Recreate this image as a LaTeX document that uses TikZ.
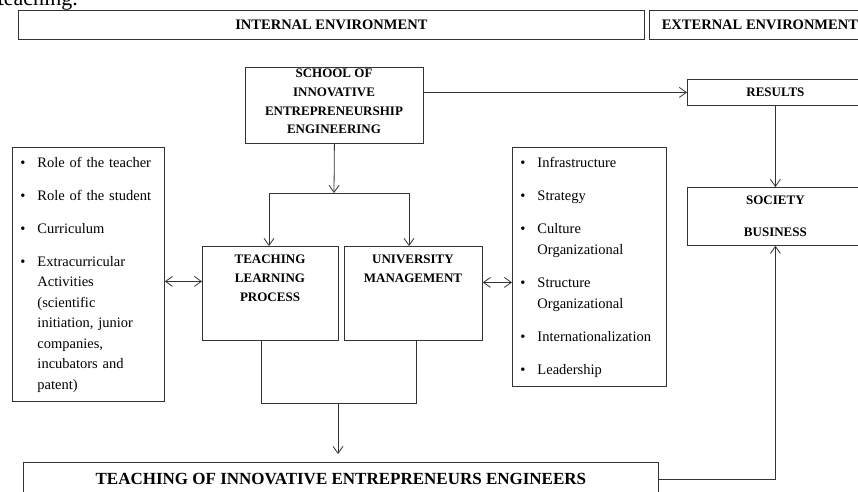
\documentclass[tikz,border=0pt]{standalone}
\usepackage{fontspec}
\setmainfont{Liberation Serif}
\usetikzlibrary{arrows.meta}

\begin{document}
\begin{tikzpicture}[x=1pt, y=-1pt, >={Straight Barb[length=7pt,width=10pt]}]
	\tikzstyle{box}=[draw=black!80, line width=.8pt, rectangle, inner sep=0pt, anchor=north west]
	\tikzstyle{head}=[font=\fontsize{14.5}{17}\selectfont\bfseries]
	\tikzstyle{bold}=[font=\fontsize{13}{18.7}\selectfont\bfseries, align=center]
	\tikzstyle{title}=[bold, anchor=north, inner sep=0pt]
	\tikzstyle{items}=[font=\fontsize{14.5}{20.5}\selectfont, align=left, inner xsep=8pt]
	\tikzstyle{link}=[draw=black!80, line width=.8pt]
	\useasboundingbox (0,0) rectangle (858,491);
	\clip (0,0) rectangle (858,491);
	\path (78,5) node[anchor=base east, inner sep=0pt, font=\fontsize{22}{26}\selectfont] (intro) {teaching.};
	\path (18,10) node[box, head, minimum width=626, minimum height=29] (internal) {INTERNAL ENVIRONMENT};
	\path (649,10) node[box, head, minimum width=221, minimum height=29] (external) {EXTERNAL ENVIRONMENT};
	\path (245,67) node[box, minimum width=178, minimum height=76] (school) {};
	\path (334,69) node[title] (schooltext) {SCHOOL OF\\INNOVATIVE\\ENTREPRENEURSHIP\\ENGINEERING};
	\path (687,79) node[box, bold, minimum width=176, minimum height=26] (results) {RESULTS};
	\path (687,187) node[box, bold, minimum width=176, minimum height=58] (society) {SOCIETY\\[13pt]BUSINESS};
	\path (202,246) node[box, minimum width=136, minimum height=94] (tlp) {};
	\path (270,255) node[title] (tlptext) {TEACHING\\LEARNING\\PROCESS};
	\path (344,246) node[box, minimum width=138, minimum height=94] (um) {};
	\path (413,255) node[title] (umtext) {UNIVERSITY\\MANAGEMENT};
	\path (12,147) node[box, items, text width=136, minimum width=152, minimum height=254] (leftlist) {%
		\begin{tabular}{@{}l@{\hspace{12pt}}l@{}}
		\textbullet & Role of the teacher\\[12.3pt]
		\textbullet & Role of the student\\[12.3pt]
		\textbullet & Curriculum\\[12.3pt]
		\textbullet & Extracurricular\\
		 & Activities\\
		 & (scientific\\
		 & initiation, junior\\
		 & companies,\\
		 & incubators and\\
		 & patent)
		\end{tabular}};
	\path (512,147) node[box, items, text width=138, minimum width=154, minimum height=239] (rightlist) {%
		\begin{tabular}{@{}l@{\hspace{12pt}}l@{}}
		\textbullet & Infrastructure\\[12.8pt]
		\textbullet & Strategy\\[12.8pt]
		\textbullet & Culture\\
		 & Organizational\\[12.8pt]
		\textbullet & Structure\\
		 & Organizational\\[12.8pt]
		\textbullet & Internationalization\\[12.8pt]
		\textbullet & Leadership
		\end{tabular}};
	\path (23,462) node[box, minimum width=635, minimum height=33, font=\fontsize{17}{20}\selectfont\bfseries] (engineers) {TEACHING OF INNOVATIVE ENTREPRENEURS ENGINEERS};
	\coordinate (split) at (334,193);
	\coordinate (lbranch) at (269,193);
	\coordinate (rbranch) at (409,193);
	\coordinate (ljoin) at (261,403);
	\coordinate (rjoin) at (416,403);
	\coordinate (merge) at (338,403);
	\coordinate (tlpport) at ([yshift=12pt]tlp.west);
	\coordinate (umport) at ([yshift=11pt]um.east);
	\draw[link, ->] (school.south) -- (split);
	\draw[link] (lbranch) -- (rbranch);
	\draw[link, ->] (lbranch) -- (lbranch |- tlp.north);
	\draw[link, ->] (rbranch) -- (rbranch |- um.north);
	\draw[link, <->] (leftlist.east |- tlpport) -- (tlpport);
	\draw[link, <->] (umport) -- (umport -| rightlist.west);
	\draw[link] (ljoin |- tlp.south) -- (ljoin) -- (rjoin) -- (rjoin |- um.south);
	\draw[link, ->, shorten >=8pt] (merge) -- (merge |- engineers.north);
	\draw[link, ->] (school.east |- results.west) -- (results.west);
	\draw[link, ->] (results.south) -- (society.north);
	\draw[link, ->] (engineers.east) -| (society.south);
\end{tikzpicture}
\end{document}
